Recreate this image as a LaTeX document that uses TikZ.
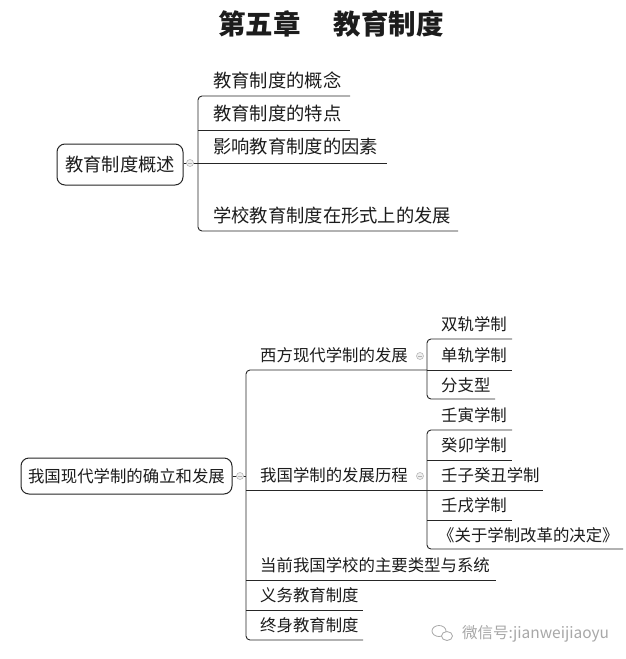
\documentclass[tikz,border=0pt]{standalone}
\usepackage{fontspec}
\newfontfamily\cjk{Noto Sans CJK SC}
\definecolor{ink}{HTML}{1C1C1C}
\definecolor{wline}{HTML}{262626}
\definecolor{wm}{HTML}{A8A8A8}
\tikzset{
  txtA/.style={anchor=west, inner sep=0pt, text=ink, font=\cjk\fontsize{18.3}{20}\selectfont, text height=1.1em, text depth=0em},
  txtB/.style={anchor=west, inner sep=0pt, text=ink, font=\cjk\fontsize{16.4}{18}\selectfont, text height=1.1em, text depth=0em},
  rootA/.style={draw=wline, line width=1pt, rounded corners=8pt, minimum width=126pt, minimum height=41pt, inner sep=0pt, text=ink, font=\cjk\fontsize{18.3}{20}\selectfont},
  rootB/.style={draw=wline, line width=1pt, rounded corners=8pt, minimum width=211pt, minimum height=36pt, inner sep=0pt, text=ink, font=\cjk\fontsize{16.4}{18}\selectfont},
  ln/.style={draw=wline, line width=0.9pt},
  br/.style={draw=wline, line width=0.9pt, rounded corners=4pt},
  knob/.style={circle, draw=gray!55, fill=gray!12, line width=0.6pt, minimum size=7pt, inner sep=0pt},
}
\begin{document}
\begin{tikzpicture}[x=1pt,y=-1pt]
\useasboundingbox[fill=white] (0,0) rectangle (626,659);

% title
\node[inner sep=0pt, text=ink, font=\cjk\bfseries\fontsize{27.5}{30}\selectfont] (title) at (331,23.5) {第五章\hspace{1.2em}教育制度};

% ---------- top map ----------
\node[rootA] (r1) at (120,164.5) {教育制度概述};
\node[txtA] (a1) at (213,82) {教育制度的概念};
\node[txtA] (a2) at (213,115) {教育制度的特点};
\node[txtA] (a3) at (213,148) {影响教育制度的因素};
\node[txtA] (a4) at (213,217) {学校教育制度在形式上的发展};
\coordinate (v1) at (198,163);
\draw[ln] (r1.east |- v1) -- (v1);
\node[knob] (k1) at (190,163) {};
\draw[gray!60, line width=0.6pt] (188,163) -- (192,163);
\draw[br] (350,96) -- (198,96) -- (198,231) -- (458,231);
\draw[ln] (198,130) -- (350,130);
\draw[ln] (198,163) -- (387,163);

% ---------- bottom map ----------
\node[rootB] (r2) at (126.5,476) {我国现代学制的确立和发展};
\coordinate (v2) at (246,476);
\draw[ln] (r2.east) -- (v2);
\node[knob] (k2) at (240,476) {};
\draw[gray!60, line width=0.6pt] (238,476) -- (242,476);

\node[txtB] (b1) at (260,356) {西方现代学制的发展};
\node[txtB] (b2) at (260,476) {我国学制的发展历程};
\node[txtB] (b3) at (260,566) {当前我国学校的主要类型与系统};
\node[txtB] (b4) at (260,596) {义务教育制度};
\node[txtB] (b5) at (260,626) {终身教育制度};

\draw[br] (427,370) -- (246,370) -- (246,640) -- (363,640);
\draw[ln] (246,490) -- (427,490);
\draw[ln] (246,580) -- (496,580);
\draw[ln] (246,610) -- (363,610);

\node[knob] (k3) at (420,356) {};
\draw[gray!60, line width=0.6pt] (418,356) -- (422,356);
\node[knob] (k4) at (420,476) {};
\draw[gray!60, line width=0.6pt] (418,476) -- (422,476);

% western
\node[txtB] (c1) at (441,325) {双轨学制};
\node[txtB] (c2) at (441,356) {单轨学制};
\node[txtB] (c3) at (441,386) {分支型};
\draw[br] (512,339) -- (427,339) -- (427,399) -- (495,399);
\draw[ln] (427,370) -- (512,370);

% china
\node[txtB] (d1) at (441,416) {壬寅学制};
\node[txtB] (d2) at (441,446) {癸卯学制};
\node[txtB] (d3) at (441,476) {壬子癸丑学制};
\node[txtB] (d4) at (441,506) {壬戌学制};
\node[txtB] (d5) at (438,536) {《关于学制改革的决定》};
\draw[br] (512,430) -- (427,430) -- (427,549) -- (623,549);
\draw[ln] (427,460) -- (512,460);
\draw[ln] (427,490) -- (543,490);
\draw[ln] (427,520) -- (512,520);

% watermark
\draw[wm, line width=0.8pt] (439,631) ellipse [x radius=7, y radius=5.5];
\draw[wm, line width=0.8pt, fill=white] (447,636) ellipse [x radius=5.5, y radius=4.5];
\node[anchor=west, inner sep=0pt, text=wm, font=\cjk\fontsize{15.5}{17}\selectfont, text height=1.1em, text depth=0em] (wmt) at (462,633) {微信号:jianweijiaoyu};
\end{tikzpicture}
\end{document}
